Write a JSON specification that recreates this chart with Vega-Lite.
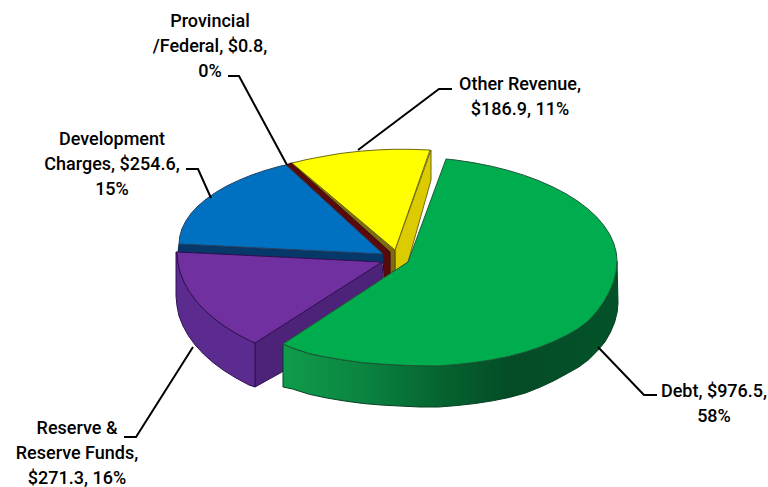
{
  "$schema": "https://vega.github.io/schema/vega-lite/v6.json",
  "width": 768,
  "height": 487,
  "padding": 0,
  "autosize": "none",
  "background": "white",
  "view": {"stroke": null},
  "projection": {"type": "identity", "scale": 1, "translate": [396, 262]},
  "datasets": {
    "faces": [
      {"type": "Feature", "properties": {"part": "yellow wall", "slice": "Other Revenue", "value": 186.9}, "geometry": {"type": "Polygon", "coordinates": [[[-1,-12],[35,-112],[35,-82],[12,0],[-1,9],[-1,-12]]]}},
      {"type": "Feature", "properties": {"part": "yellow side", "slice": "Other Revenue", "value": 186.9}, "geometry": {"type": "Polygon", "coordinates": [[[-105,-99],[-103,-99],[-1,-12],[-1,8],[-6,11],[-6,-10],[-105,-99]]]}},
      {"type": "Feature", "properties": {"part": "red", "slice": "Provincial /Federal", "value": 0.8}, "geometry": {"type": "Polygon", "coordinates": [[[-110,-97],[-105,-99],[-6,-10],[-6,11],[-12,18],[-13,-8],[-110,-97]]]}},
      {"type": "Feature", "properties": {"part": "blue wall", "slice": "Development Charges", "value": 254.6}, "geometry": {"type": "Polygon", "coordinates": [[[-217,-18],[-13,-8],[-12,1],[-218,-10],[-217,-18]]]}},
      {"type": "Feature", "properties": {"part": "blue", "slice": "Development Charges", "value": 254.6}, "geometry": {"type": "Polygon", "coordinates": [[[-217,-18],[-216.2,-25.8],[-213.9,-33.6],[-210,-41.3],[-204.8,-48.8],[-198,-56],[-189.8,-63],[-180.3,-69.6],[-169.5,-75.9],[-157.5,-81.6],[-144.5,-87],[-130.4,-91.7],[-115.5,-96],[-110,-97],[-13,-8],[-217,-18]]]}},
      {"type": "Feature", "properties": {"part": "purple inner wall", "slice": "Reserve & Reserve Funds", "value": 271.3}, "geometry": {"type": "Polygon", "coordinates": [[[-141,81],[-14,0],[-13,15],[-114,110],[-141,125],[-141,81]]]}},
      {"type": "Feature", "properties": {"part": "purple wall", "slice": "Reserve & Reserve Funds", "value": 271.3}, "geometry": {"type": "Polygon", "coordinates": [[[-219,-10],[-218.2,0.1],[-215.9,10.1],[-212,20],[-206.6,29.7],[-199.8,39],[-191.5,48],[-181.9,56.5],[-171,64.6],[-159,72],[-145.8,78.9],[-141,81],[-141,125],[-147,123],[-160,116],[-172,108.6],[-183,100.5],[-192.5,92],[-200.8,83],[-207.6,73.7],[-213,64],[-217,54],[-219,44],[-220,34],[-220,-10],[-219,-10]]]}},
      {"type": "Feature", "properties": {"part": "purple", "slice": "Reserve & Reserve Funds", "value": 271.3}, "geometry": {"type": "Polygon", "coordinates": [[[-219,-10],[-218.2,0.1],[-215.9,10.1],[-212,20],[-206.6,29.7],[-199.8,39],[-191.5,48],[-181.9,56.5],[-171,64.6],[-159,72],[-145.8,78.9],[-141,81],[-14,0],[-219,-10]]]}},
      {"type": "Feature", "properties": {"part": "yellow", "slice": "Other Revenue", "value": 186.9}, "geometry": {"type": "Polygon", "coordinates": [[[-104,-99],[-90,-102.3],[-76,-105],[-56,-108.5],[-36,-110.8],[-16,-112.2],[-3,-112.7],[15,-112.7],[34,-112],[-1,-12],[-104,-99]]]}}
    ],
    "debtWall": [
      {"type": "Feature", "properties": {"slice": "Debt", "value": 976.5}, "geometry": {"type": "Polygon", "coordinates": [[[221,-0.7],[220.2,8.9],[217.7,19],[213.6,29.1],[207.9,39.6],[200.7,49.6],[191.9,59.2],[181.8,66.8],[170.2,73.5],[157.4,79.6],[143.5,85.2],[128.5,90.2],[112.5,94.4],[95.7,97.8],[78.2,100.5],[60.2,102.5],[41.7,104],[22.9,103.7],[4,103.1],[-14.9,102.1],[-33.7,100.5],[-52.2,98],[-70.2,95],[-87.7,91.3],[-104.5,85.6],[-113,82],[-113,125],[-103.5,127],[-86.7,132.3],[-69.2,136],[-51.2,139],[-32.7,141.5],[-13.9,143.1],[5,144.1],[23.9,145],[42.7,145],[61.2,143.5],[79.2,141.5],[96.7,138.8],[113.5,135.4],[129.5,131],[144.5,125],[158.4,118.5],[171.2,111.5],[182.8,105],[192.9,97.5],[201.7,88.5],[208.9,80],[214.6,70],[218.7,60],[221.2,50],[222,41],[221,-0.7]]]}}
    ],
    "debtTop": [
      {"type": "Feature", "properties": {"slice": "Debt", "value": 976.5}, "geometry": {"type": "Polygon", "coordinates": [[[50,-103],[60.2,-101.9],[78.2,-99.2],[95.7,-95.7],[112.5,-91.5],[128.5,-86.6],[143.5,-81],[157.4,-74.8],[170.2,-68.1],[181.8,-60.8],[191.9,-53.1],[200.7,-45],[207.9,-36.5],[213.6,-27.8],[217.7,-18.9],[220.2,-9.8],[221,-0.7],[220.2,8.9],[217.7,19],[213.6,29.1],[207.9,39.6],[200.7,49.6],[191.9,59.2],[181.8,66.8],[170.2,73.5],[157.4,79.6],[143.5,85.2],[128.5,90.2],[112.5,94.4],[95.7,97.8],[78.2,100.5],[60.2,102.5],[41.7,104],[22.9,103.7],[4,103.1],[-14.9,102.1],[-33.7,100.5],[-52.2,98],[-70.2,95],[-87.7,91.3],[-104.5,85.6],[-113,82],[12,0],[50,-103]]]}}
    ],
    "leaders": [
      {"type": "Feature", "properties": {"slice": "Provincial /Federal"}, "geometry": {"type": "LineString", "coordinates": [[-168,-186],[-157,-186],[-109,-97]]}},
      {"type": "Feature", "properties": {"slice": "Development Charges"}, "geometry": {"type": "LineString", "coordinates": [[-210,-93],[-198,-93],[-185,-64]]}},
      {"type": "Feature", "properties": {"slice": "Reserve & Reserve Funds"}, "geometry": {"type": "LineString", "coordinates": [[-272,175],[-260,175],[-203,85]]}},
      {"type": "Feature", "properties": {"slice": "Other Revenue"}, "geometry": {"type": "LineString", "coordinates": [[56,-173],[43,-173],[-38,-112]]}},
      {"type": "Feature", "properties": {"slice": "Debt"}, "geometry": {"type": "LineString", "coordinates": [[261,133],[248,133],[202,85]]}}
    ],
    "labels": [
      {"slice": "Provincial /Federal", "value": 0.8, "share": 0, "label": "Provincial\n/Federal, $0.8,\n0%", "lon": -186, "lat": -235},
      {"slice": "Development Charges", "value": 254.6, "share": 15, "label": "Development\nCharges, $254.6,\n15%", "lon": -284, "lat": -117},
      {"slice": "Reserve & Reserve Funds", "value": 271.3, "share": 16, "label": "Reserve &\nReserve Funds,\n$271.3, 16%", "lon": -319, "lat": 172},
      {"slice": "Other Revenue", "value": 186.9, "share": 11, "label": "Other Revenue,\n$186.9, 11%", "lon": 124, "lat": -172},
      {"slice": "Debt", "value": 976.5, "share": 58, "label": "Debt, $976.5,\n58%", "lon": 318, "lat": 135}
    ]
  },
  "layer": [
    {
      "data": {"name": "faces"},
      "mark": {"type": "geoshape", "strokeWidth": 1, "strokeJoin": "round"},
      "encoding": {
        "fill": {
          "field": "properties.part", "type": "nominal", "legend": null,
          "scale": {
            "domain": ["yellow wall", "yellow side", "red", "blue wall", "blue", "purple inner wall", "purple wall", "purple", "yellow"],
            "range": ["#dccb00", "#7d6c12", "#5a0a0c", "#06386a", "#0070c0", "#4d2379", "#5c2b8f", "#7030a0", "#ffff00"]
          }
        },
        "stroke": {
          "field": "properties.part", "type": "nominal", "legend": null,
          "scale": {
            "domain": ["yellow wall", "yellow side", "red", "blue wall", "blue", "purple inner wall", "purple wall", "purple", "yellow"],
            "range": ["#6f6a10", "#5c500c", "#3c0708", "#06284c", "#27415f", "#2f1150", "#2f1150", "#2f1150", "#6f6a10"]
          }
        }
      }
    },
    {
      "data": {"name": "debtWall"},
      "mark": {
        "type": "geoshape", "stroke": "#034020", "strokeWidth": 1, "strokeJoin": "round",
        "fill": {
          "x1": 0, "y1": 0, "x2": 1, "y2": 0, "gradient": "linear",
          "stops": [
            {"offset": 0, "color": "#109c4c"},
            {"offset": 0.22, "color": "#0b8642"},
            {"offset": 0.5, "color": "#05602f"},
            {"offset": 0.68, "color": "#044c26"},
            {"offset": 1, "color": "#03522a"}
          ]
        }
      }
    },
    {
      "data": {"name": "debtTop"},
      "mark": {"type": "geoshape", "fill": "#00ad4e", "stroke": "#1d5a36", "strokeWidth": 1, "strokeJoin": "round"}
    },
    {
      "data": {"name": "leaders"},
      "mark": {"type": "geoshape", "filled": false, "stroke": "#000000", "strokeWidth": 2, "strokeJoin": "miter"}
    },
    {
      "data": {"name": "labels"},
      "mark": {
        "type": "text", "align": "center", "baseline": "alphabetic", "lineBreak": "\n", "lineHeight": 25,
        "font": "Roboto", "fontSize": 18, "fontWeight": 500, "fill": "#000000"
      },
      "encoding": {
        "longitude": {"field": "lon", "type": "quantitative"},
        "latitude": {"field": "lat", "type": "quantitative"},
        "text": {"field": "label", "type": "nominal"}
      }
    }
  ]
}
